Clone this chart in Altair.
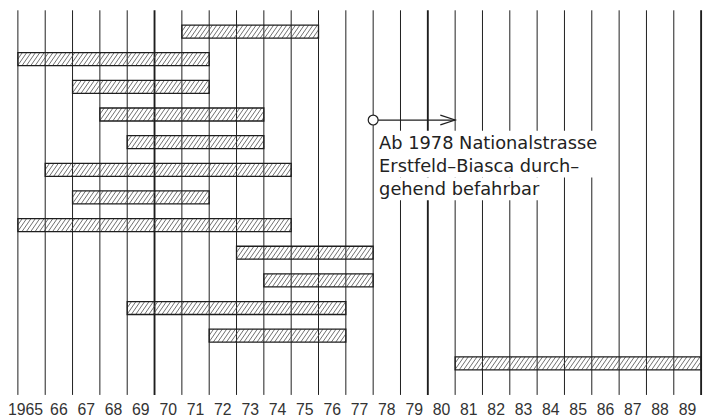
import altair as alt
import pandas as pd
import numpy as np

# ---- data ----
label_years = list(range(1965, 1990))
year_labels = ["1965"] + [str(y)[2:] for y in range(1966, 1990)]
grid_years = list(range(1965, 1991))

bar_row = list(range(13))
bar_start = [1971, 1965, 1967, 1968, 1969, 1966, 1967, 1965, 1973, 1974, 1969, 1972, 1981]
bar_end = [1976, 1972, 1972, 1974, 1974, 1975, 1972, 1975, 1978, 1978, 1977, 1977, 1990]

note_start = 1978
note_end = 1981
note_lines = ["Ab 1978 Nationalstrasse", "Erstfeld\u2013Biasca durch\u2013", "gehend befahrbar"]

# ---- tables ----
HH = 0.235     # half bar height (row units)
RUN = 0.33     # horizontal run of a hatch stroke (years)
STEP = 0.16    # hatch spacing (years)

bars = pd.DataFrame({"row": bar_row, "start": bar_start, "end": bar_end})
bars["top"] = bars["row"] - HH
bars["bot"] = bars["row"] + HH

hatch_rows = []
for s, e, r in zip(bar_start, bar_end, bar_row):
    for x0 in np.arange(s - RUN, e, STEP):
        t0 = max(0.0, (s - x0) / RUN)
        t1 = min(1.0, (e - x0) / RUN)
        if t1 <= t0:
            continue
        hatch_rows.append({
            "xa": x0 + t0 * RUN, "xb": x0 + t1 * RUN,
            "ya": r + HH - 2 * HH * t0, "yb": r + HH - 2 * HH * t1,
        })
hatch = pd.DataFrame(hatch_rows)

grid = pd.DataFrame({"year": grid_years})
labels = pd.DataFrame({"year": label_years, "label": year_labels})
note = pd.DataFrame({"start": [note_start], "end": [note_end], "text": ["\n".join(note_lines)]})

W, H = 691, 389
xs = alt.Scale(domain=[1965, 1990], nice=False, zero=False)
ys = alt.Scale(domain=[-0.769, 13.144], nice=False, zero=False, reverse=True)
INK = "#1e1e1e"

gridlines = alt.Chart(grid).mark_rule(color=INK).encode(
    x=alt.X("year:Q", scale=xs, axis=None),
    y=alt.value(0), y2=alt.value(H),
    strokeWidth=alt.condition("datum.year % 10 == 0", alt.value(1.9), alt.value(1.0)),
)

hatch_layer = alt.Chart(hatch).mark_rule(color="#4a4a4a", strokeWidth=0.8).encode(
    x=alt.X("xa:Q", scale=xs, axis=None), x2="xb:Q",
    y=alt.Y("ya:Q", scale=ys, axis=None), y2="yb:Q",
)

bar_layer = alt.Chart(bars).mark_rect(fillOpacity=0, stroke=INK, strokeWidth=1.3).encode(
    x=alt.X("start:Q", scale=xs, axis=None), x2="end:Q",
    y=alt.Y("top:Q", scale=ys, axis=None), y2="bot:Q",
)

tick_labels = alt.Chart(labels).transform_calculate(
    xpos="datum.year + 0.5 - (length(datum.label) > 2 ? 0.22 : 0)"
).mark_text(
    font="Liberation Sans", fontSize=16, color="#333333", baseline="middle", align="center"
).encode(
    x=alt.X("xpos:Q", scale=xs, axis=None), y=alt.value(404), text="label:N",
)

# white panels behind the annotation text (hide the grid lines there)
panel_a = alt.Chart(note).mark_rect(fill="white").encode(
    x=alt.X(datum=1978.12, scale=xs, axis=None), x2=alt.X2(datum=1986.35),
    y=alt.Y(datum=3.59, scale=ys, axis=None), y2=alt.Y2(datum=5.28),
)
panel_b = alt.Chart(note).mark_rect(fill="white").encode(
    x=alt.X(datum=1978.12, scale=xs, axis=None), x2=alt.X2(datum=1984.25),
    y=alt.Y(datum=5.28, scale=ys, axis=None), y2=alt.Y2(datum=6.1),
)

arrow_line = alt.Chart(note).mark_rule(color=INK, strokeWidth=1.2).encode(
    x=alt.X("start:Q", scale=xs, axis=None), x2="end:Q",
    y=alt.Y(datum=3.2, scale=ys, axis=None),
)
arrow_head = alt.Chart(note).mark_point(
    shape="M-1,-0.33L0,0L-1,0.33", filled=False, size=900, color=INK, strokeWidth=1.2, opacity=1
).encode(
    x=alt.X("end:Q", scale=xs, axis=None),
    y=alt.Y(datum=3.2, scale=ys, axis=None),
)
arrow_dot = alt.Chart(note).mark_point(
    shape="circle", filled=True, fill="white", stroke=INK, strokeWidth=1.2, size=100, opacity=1
).encode(
    x=alt.X("start:Q", scale=xs, axis=None),
    y=alt.Y(datum=3.2, scale=ys, axis=None),
)

note_text = alt.Chart(note).mark_text(
    color="#222222", font="DejaVu Sans", fontSize=18, align="left", baseline="alphabetic",
    lineBreak="\n", lineHeight=23.5, dx=6,
).encode(
    x=alt.X("start:Q", scale=xs, axis=None),
    y=alt.Y(datum=4.24, scale=ys, axis=None),
    text="text:N",
)

chart = alt.layer(
    gridlines, hatch_layer, bar_layer, tick_labels,
    panel_a, panel_b, note_text, arrow_line, arrow_head, arrow_dot,
).properties(
    width=W, height=H,
    autosize=alt.AutoSizeParams(type="none"),
    padding={"left": 10, "top": 0, "right": 10, "bottom": 22},
    background="white",
).configure_view(stroke=None)

chart.save("out.html", embed_options={"renderer": "svg", "actions": False})
